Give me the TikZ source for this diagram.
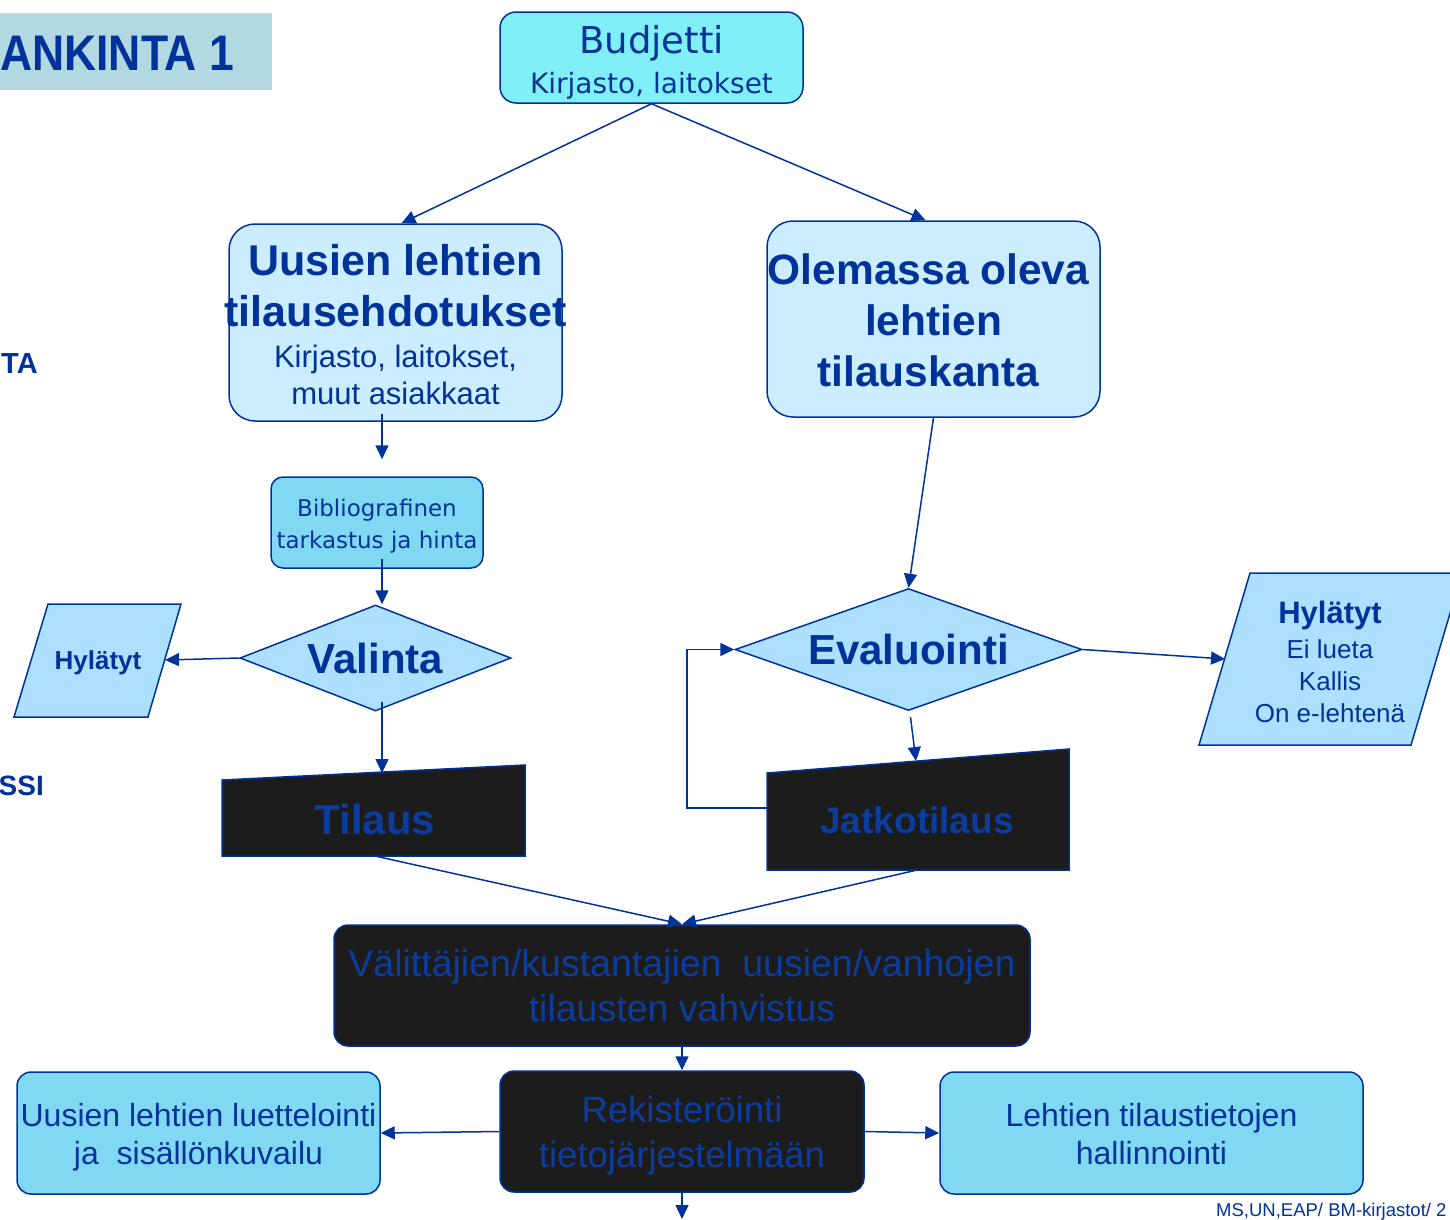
\documentclass[tikz,border=0pt]{standalone}
\usepackage{fontspec}
\setmainfont{Liberation Sans}
\newfontfamily\verd{DejaVu Sans}
\usetikzlibrary{arrows.meta,shapes.geometric}
\definecolor{ln}{HTML}{003399}
\definecolor{budfill}{HTML}{80EFF7}
\definecolor{lightfill}{HTML}{CCECFF}
\definecolor{diafill}{HTML}{ADDFFF}
\definecolor{midfill}{HTML}{80D8F2}
\definecolor{titlefill}{HTML}{B2D8E2}
\definecolor{dark}{HTML}{1C1C1C}
\definecolor{darktext}{HTML}{0B3C9E}
\newcommand\fsz[2]{\fontsize{#1}{#2}\selectfont\lineskiplimit=-1000pt\relax}
\newcommand\dpt[1]{\rule[-#1]{0pt}{#1}}
\begin{document}
\begin{tikzpicture}[x=1pt,y=-1pt,
  box/.style={draw=ln,line width=1.5pt,inner sep=0pt,rounded corners=14pt},
  dbox/.style={box,fill=dark},
  arr/.style={draw=ln,line width=1.5pt,-{Triangle[length=14pt,width=13pt]}},
  dia/.style={diamond,draw=ln,line width=1.5pt,fill=diafill,inner sep=0pt,text=ln,font=\fsz{42}{42}\bfseries},
  shp/.style={draw=ln,line width=1.5pt},
  lbl/.style={inner sep=0pt,text=ln,align=center},
  dlbl/.style={lbl,text=darktext}]
\useasboundingbox (0,0) rectangle (1450,1219);

% title band and margin labels
\node[fill=titlefill,minimum width=272pt,minimum height=77pt,anchor=north west,inner sep=0pt] (titlebg) at (0,13) {};
\node[lbl,anchor=base west,font=\fsz{50}{60}\bfseries] (title) at (0,70) {\scalebox{0.89}[1]{ANKINTA 1}};
\node[lbl,anchor=base west,font=\fsz{29}{34}\bfseries] (ta) at (1,373) {TA};
\node[lbl,anchor=base east,font=\fsz{28}{34}\bfseries] (ssi) at (44,795) {SSI};
\node[lbl,anchor=base west,font=\fsz{18.5}{22}] (foot) at (1216,1216) {MS,UN,EAP/ BM-kirjastot/ 2};

% boxes
\node[box,fill=budfill,minimum width=303pt,minimum height=91pt,rounded corners=16pt] (bud) at (651.5,57.5) {};
\node[lbl,font=\verd\fsz{37}{40}] (budt) at ([yshift=-7pt]bud.center) {Budjetti\\{\fsz{28}{40}Kirjasto, laitokset}\dpt{10pt}};

\node[box,fill=lightfill,minimum width=333pt,minimum height=197pt,rounded corners=26pt] (uus) at (395.5,322.5) {};
\node[lbl,font=\fsz{43}{37}\bfseries] (uust) at ([yshift=-6pt]uus.center) {\makebox[300pt]{Uusien lehtien}\\[14pt]\makebox[300pt]{tilausehdotukset}\\[4pt]{\fsz{31}{37}\mdseries Kirjasto, laitokset,}\\{\fsz{31}{37}\mdseries muut asiakkaat}\dpt{8pt}};

\node[box,fill=lightfill,minimum width=333pt,minimum height=196pt,rounded corners=26pt] (ole) at (933.5,319) {};
\node[lbl,font=\fsz{42.5}{51}\bfseries] (olet) at ([yshift=-2pt]ole.center) {Olemassa oleva\hspace*{10pt}\\lehtien\hspace*{10pt}\\tilauskanta\hspace*{10pt}\dpt{2pt}};

\node[box,fill=midfill,minimum width=212pt,minimum height=91pt,rounded corners=12pt] (bib) at (377,522.5) {};
\node[lbl,font=\verd\fsz{23}{32}] (bibt) at ([yshift=-5pt]bib.center) {Bibliografinen\\tarkastus ja hinta\dpt{8pt}};

% decisions
\node[dia,minimum width=271pt,minimum height=106pt,shape aspect=2.56] (val) at (375.5,658) {Valinta};
\node[dia,minimum width=347pt,minimum height=122pt,shape aspect=2.84] (eva) at (908.5,649.5) {Evaluointi};

% rejected (parallelograms)
\draw[shp,fill=diafill] (14,717) -- (48,604) -- (181,604) -- (148,717) -- cycle;
\node[lbl,font=\fsz{26}{30}\bfseries] (hyl1) at (98,663) {Hylätyt};
\coordinate (hyl1r) at (165,660);
\draw[shp,fill=diafill] (1199,745) -- (1250,573) -- (1462,573) -- (1411,745) -- cycle;
\node[lbl,font=\fsz{26}{32}] (hyl2) at (1330,662) {{\fsz{31}{32}\bfseries Hylätyt}\\[3pt]Ei lueta\\Kallis\\On e-lehtenä};
\coordinate (hyl2l) at (1225,659);

% manual input shapes
\draw[shp,fill=dark] (222,856) -- (222,780) -- (525,765) -- (525,856) -- cycle;
\node[dlbl,font=\fsz{42}{42}\bfseries] (til) at (375,819) {Tilaus};
\coordinate (tilT) at (382,773);
\coordinate (tilB) at (375,856);
\draw[shp,fill=dark] (767,870) -- (767,773) -- (1069,749) -- (1069,870) -- cycle;
\node[dlbl,font=\fsz{37}{37}\bfseries] (jat) at (917,820) {Jatkotilaus};
\coordinate (jatT) at (916,761);
\coordinate (jatL) at (767,808);
\coordinate (jatB) at (917,870);

% lower boxes
\node[dbox,minimum width=696pt,minimum height=121pt] (vah) at (682,985.5) {};
\node[dlbl,font=\fsz{37.5}{45}] (vaht) at (vah.center) {Välittäjien/kustantajien\ \ uusien/vanhojen\\tilausten vahvistus};

\node[dbox,minimum width=364pt,minimum height=121pt] (reg) at (682,1131.5) {};
\node[dlbl,font=\fsz{36.5}{45}] (regt) at ([yshift=-4pt]reg.center) {Rekisteröinti\\tietojärjestelmään\dpt{8pt}};

\node[box,fill=midfill,minimum width=363pt,minimum height=122pt] (lue) at (198.5,1133) {};
\node[lbl,font=\fsz{32}{38}] (luet) at ([yshift=-4.5pt]lue.center) {Uusien lehtien luettelointi\\ja\ \ sisällönkuvailu\dpt{8pt}};

\node[box,fill=midfill,minimum width=423pt,minimum height=122pt] (hal) at (1151.5,1133) {};
\node[lbl,font=\fsz{32}{38}] (halt) at ([yshift=-2pt]hal.center) {Lehtien tilaustietojen\\hallinnointi\dpt{2pt}};
\coordinate (out) at (682,1219);

% connectors
\draw[arr] (bud.south) -- ([xshift=6pt]uus.north);
\draw[arr] (bud.south) -- ([xshift=-8pt]ole.north);
\draw[arr] ([xshift=-13.5pt,yshift=8pt]uus.south) -- ([xshift=5pt,yshift=17pt]bib.north);
\draw[arr] ([xshift=5pt,yshift=10pt]bib.south) -- ([xshift=6.5pt]val.north);
\draw[arr] (val.west) -- (hyl1r);
\draw[arr] ([xshift=6.5pt,yshift=10pt]val.south) -- (tilT);
\draw[arr] (ole.south) -- (eva.north);
\draw[arr] ([xshift=2pt,yshift=-6pt]eva.south) -- (jatT);
\draw[arr] (eva.east) -- (hyl2l);
\draw[arr] (jatL) -- ++(-80,0) |- (eva.west);
\draw[arr] (tilB) -- (vah.north);
\draw[arr] (jatB) -- (vah.north);
\draw[arr] (vah.south) -- (reg.north);
\draw[arr] (reg.west) -- (lue.east);
\draw[arr] (reg.east) -- (hal.west);
\draw[arr] (reg.south) -- (out);
\end{tikzpicture}
\end{document}
